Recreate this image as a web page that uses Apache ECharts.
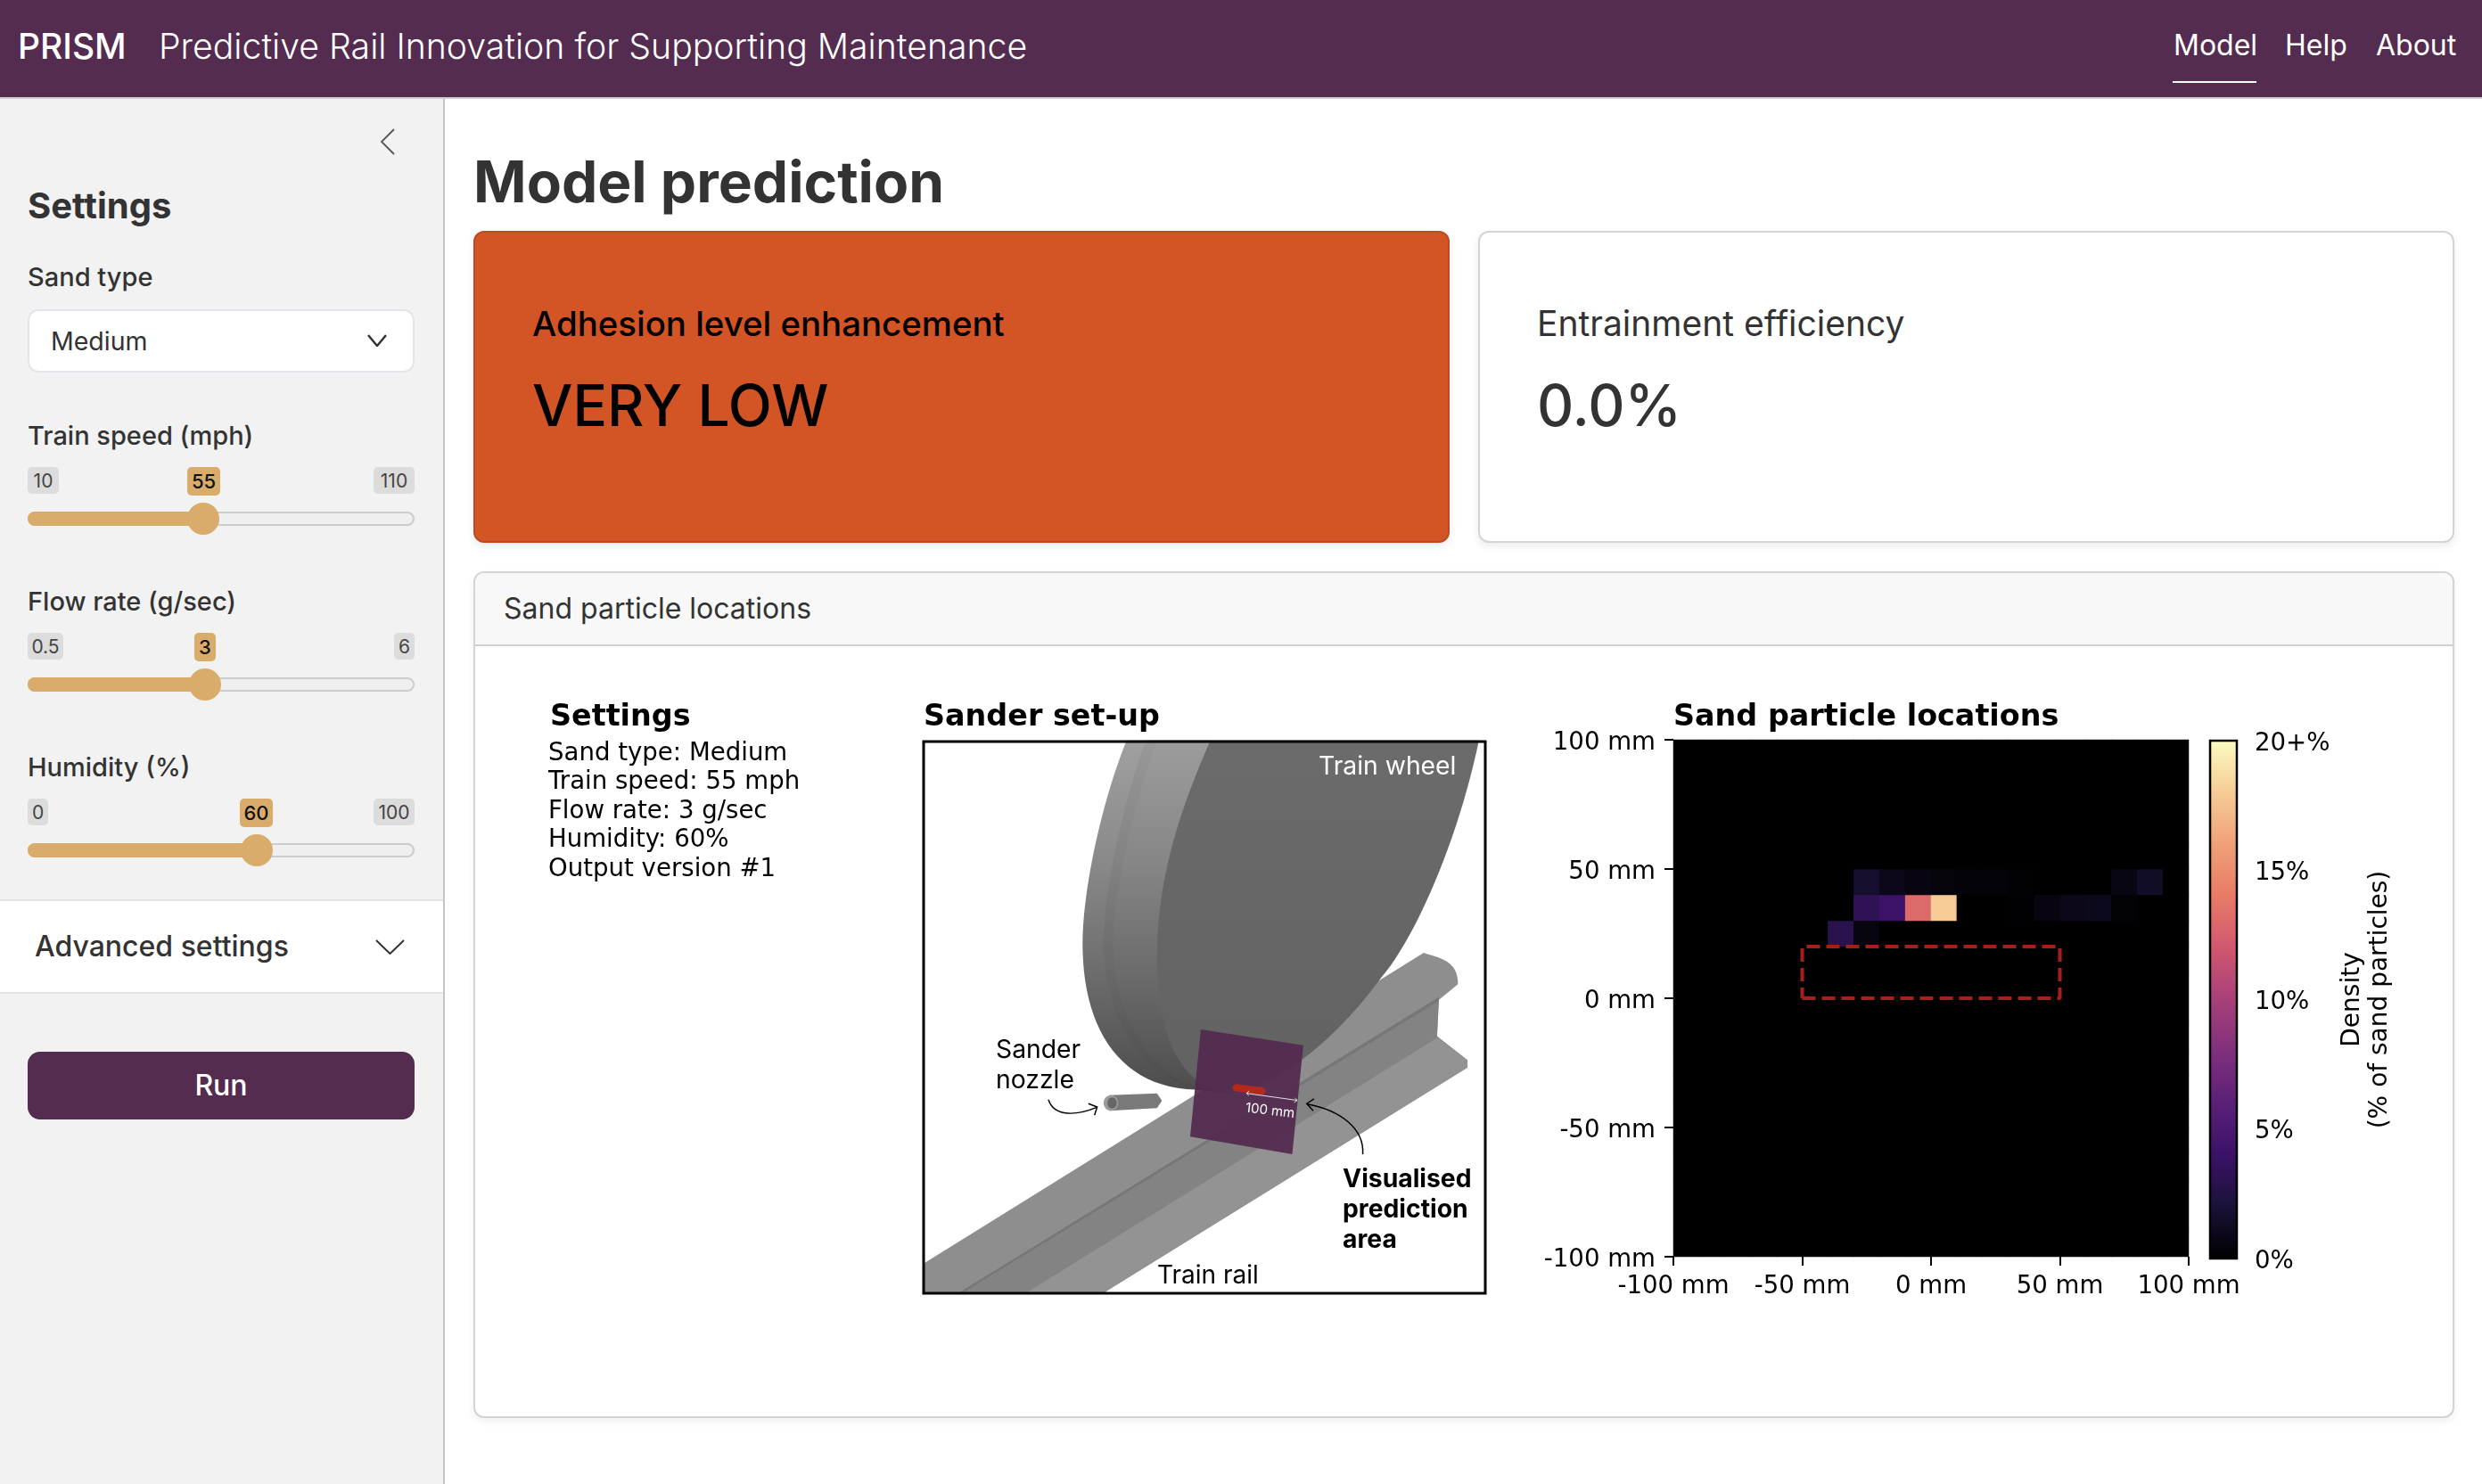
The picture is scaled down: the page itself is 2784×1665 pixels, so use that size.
<!DOCTYPE html>
<html>
<head>
<meta charset="utf-8">
<title>PRISM</title>
<script src="https://cdn.jsdelivr.net/npm/echarts@6/dist/echarts.min.js"></script>
<style>
html,body{margin:0;padding:0;width:2784px;height:1665px;overflow:hidden;background:#fff;font-family:Inter,sans-serif}
.box{position:absolute;box-sizing:border-box}
.t{position:absolute;white-space:nowrap;line-height:1}
#chart{position:absolute;left:0;top:0;width:2784px;height:1665px}
</style>
</head>
<body>
<div id="page"></div>
<div id="chart"></div>
<script>
// heatmap bins, lower edge in mm
var xBins = ['-100','-90','-80','-70','-60','-50','-40','-30','-20','-10','0','10','20','30','40','50','60','70','80','90'];
var yBins = ['-100','-90','-80','-70','-60','-50','-40','-30','-20','-10','0','10','20','30','40','50','60','70','80','90'];
var emptyRow = [0,0,0,0,0,0,0,0,0,0,0,0,0,0,0,0,0,0,0,0];
var row20 = [0,0,0,0,0,0,2.9,0.5,0,0,0,0,0,0,0,0,0,0,0,0];
var row30 = [0,0,0,0,0,0,0,3.2,4,13,18,0,0,0.1,0.6,0.9,1,0.25,0,0];
var row40 = [0,0,0,0,0,0,0,1.6,0.9,0.6,0.4,0.35,0.35,0.12,0,0,0,0.7,1.4,0];
// bottom row first
var densityRows = [emptyRow,emptyRow,emptyRow,emptyRow,emptyRow,emptyRow,emptyRow,emptyRow,emptyRow,emptyRow,
                   emptyRow,emptyRow,row20,row30,row40,emptyRow,emptyRow,emptyRow,emptyRow,emptyRow];
var targetBox = [[-50,0],[50,0],[50,20],[-50,20],[-50,0]];
var magmaStops = ['#000000','#1a1238','#3b1268','#5b2078','#80307c','#a8407a','#d0586f','#e77b65','#f0a077','#f6cb96','#fbfcc0'];
var settingsLines = ['Sand type: Medium','Train speed: 55 mph','Flow rate: 3 g/sec','Humidity: 60%','Output version #1'];
var sliders = [
  {name:'Train speed (mph)', min:'10', val:'55', max:'110', base:499, minW:35, maxW:46, valL:210, valW:37, cx:228},
  {name:'Flow rate (g/sec)', min:'0.5', val:'3', max:'6', base:685, minW:40, maxW:23, valL:218, valW:24, cx:230},
  {name:'Humidity (%)', min:'0', val:'60', max:'100', base:871, minW:23, maxW:46, valL:269, valW:37, cx:288}
];

var page = document.getElementById('page');
function box(x,y,w,h,css){
  var d = document.createElement('div');
  d.className = 'box';
  d.style.cssText = 'left:'+x+'px;top:'+y+'px;width:'+w+'px;height:'+h+'px;'+(css||'');
  page.appendChild(d);
  return d;
}
// x = left edge, base = text baseline
function txt(s,x,base,size,weight,color,css){
  var d = document.createElement('div');
  d.className = 't';
  d.textContent = s;
  d.style.cssText = 'left:'+x+'px;top:'+(base-0.864*size)+'px;font-size:'+size+'px;font-weight:'+weight+';color:'+color+';'+(css||'');
  page.appendChild(d);
}
function chevron(x,y,w,h,color,sw){
  var s = '<svg width="'+w+'" height="'+h+'" style="position:absolute;left:'+x+'px;top:'+y+'px"><polyline points="1,1 '+(w/2)+','+(h-1)+' '+(w-1)+',1" fill="none" stroke="'+color+'" stroke-width="'+sw+'"/></svg>';
  page.insertAdjacentHTML('beforeend',s);
}

// navbar
box(0,0,2784,109,'background:#532c50');
box(0,109,2784,2,'background:#d0d0d0');
txt('PRISM',20,66,39,500,'#fff');
txt('Predictive Rail Innovation for Supporting Maintenance',178,66,39.2,300,'#fff');
txt('Model',2438,63,32,400,'#fff');
txt('Help',2563,63,32,400,'#fff');
txt('About',2665,63,32,400,'#fff');
box(2437,91,94,2,'background:#fff');

// sidebar
box(0,111,497,1554,'background:#f2f2f2');
box(497,111,2,1554,'background:#c6c6c6');
page.insertAdjacentHTML('beforeend','<svg width="16" height="30" style="position:absolute;left:427px;top:144px"><polyline points="15,1 1,15 15,29" fill="none" stroke="#555" stroke-width="1.8"/></svg>');
txt('Settings',31,246,40,700,'#333');
txt('Sand type',31,321,29,500,'#333');
box(31,347,434,71,'background:#fff;border:2px solid #e2e6ea;border-radius:12px');
txt('Medium',57,394,28.5,400,'#333');
chevron(412,375,22,14,'#333',2.5);
sliders.forEach(function(s){
  var by = s.base+25, h = 30, cy = s.base+83;
  txt(s.name,31,s.base,29,500,'#333');
  box(31,by,s.minW,h,'background:#dcdcdc;border-radius:5px');
  box(465-s.maxW,by,s.maxW,h,'background:#dcdcdc;border-radius:5px');
  box(s.valL,by,s.valW,h+2,'background:#d9ac6b;border-radius:5px');
  txt(s.min,31,by+23,21,400,'#444','width:'+s.minW+'px;text-align:center');
  txt(s.max,465-s.maxW,by+23,21,400,'#444','width:'+s.maxW+'px;text-align:center');
  txt(s.val,s.valL,by+24,22,500,'#111','width:'+s.valW+'px;text-align:center');
  box(31,cy-8,434,16,'background:#efefef;border:2px solid #ccc;border-radius:8px');
  box(31,cy-8,s.cx-31,16,'background:#d9ac6b;border-radius:8px 0 0 8px');
  box(s.cx-18,cy-18,36,36,'background:#d9ac6b;border-radius:50%');
});
box(0,1009,497,106,'background:#fff;border-top:2px solid #e0e3e8;border-bottom:2px solid #e0e3e8');
txt('Advanced settings',39,1074,32,500,'#333');
chevron(421,1054,33,17,'#333',2);
box(31,1180,434,76,'background:#532c50;border-radius:14px');
txt('Run',31,1230,32,500,'#fff','width:434px;text-align:center');

// main column
txt('Model prediction',531,227,64,700,'#333');
box(531,259,1095,350,'background:#d35424;border:2px solid #bd4a20;border-radius:12px;box-shadow:0 4px 10px rgba(0,0,0,.08)');
box(1658,259,1095,350,'background:#fff;border:2px solid #d4d4d4;border-radius:12px;box-shadow:0 4px 10px rgba(0,0,0,.08)');
txt('Adhesion level enhancement',597,377,38.4,500,'#000');
txt('VERY LOW',597,478,64,500,'#000');
txt('Entrainment efficiency',1724,377,39,400,'#333');
txt('0.0%',1724,478,64,500,'#333');
box(531,641,2222,950,'background:#fff;border:2px solid #d4d4d4;border-radius:12px;box-shadow:0 4px 10px rgba(0,0,0,.06)');
box(533,643,2218,82,'background:#f8f8f8;border-bottom:2px solid #d0d0d0;border-radius:10px 10px 0 0');
txt('Sand particle locations',565,695,32,400,'#333');

// sampled cubic curve, for the wheel outline
function bez(a,b,c,d){
  var pts = [];
  for(var i=0;i<=24;i++){
    var t = i/24, u = 1-t;
    pts.push([u*u*u*a[0]+3*u*u*t*b[0]+3*u*t*t*c[0]+t*t*t*d[0], u*u*u*a[1]+3*u*u*t*b[1]+3*u*t*t*c[1]+t*t*t*d[1]]);
  }
  return pts;
}
function poly(points,fill,z){
  return {type:'polygon',shape:{points:points},style:{fill:fill},z:z||1,silent:true};
}
function vgrad(stops){
  return new echarts.graphic.LinearGradient(0,0,0,1,stops.map(function(c,i){return {offset:i/(stops.length-1),color:c}}));
}
function curve(a,b,c,d,sw){
  return {type:'bezierCurve',shape:{x1:a[0],y1:a[1],cpx1:b[0],cpy1:b[1],cpx2:c[0],cpy2:c[1],x2:d[0],y2:d[1]},style:{stroke:'#000',lineWidth:sw,fill:null},silent:true};
}
function figText(s,x,base,size,bold,fill,font){
  return {type:'text',x:x,y:base+0.22*size,silent:true,z:20,style:{text:s,fill:fill||'#000',verticalAlign:'bottom',
    font:(bold?'bold ':'')+size+'px '+(font||'"DejaVu Sans"')}};
}

var railTop = [[38,1465],[1350,625]];
var rimOuter = [].concat(bez([570,50],[500,230],[450,480],[455,620]),bez([455,620],[460,840],[560,990],[750,995]),[[850,1005],[790,50]]);
var rimInner = [].concat(bez([620,50],[560,220],[505,480],[510,620]),bez([510,620],[520,800],[600,950],[750,992]),[[850,1005],[790,50]]);
var rimTread = [].concat(bez([650,50],[590,220],[530,480],[535,620]),bez([535,620],[545,800],[630,950],[750,985]),[[850,1005],[790,50]]);
var wheelFace = [].concat(bez([790,50],[710,240],[650,420],[650,640]),bez([650,640],[650,860],[720,1000],[850,1005]),bez([850,1005],[1000,970],[1140,830],[1240,690]),bez([1240,690],[1330,580],[1440,320],[1495,50]));

// zoom-crop coordinates of the sander picture, scaled to the page by the group
var sketch = [
  poly(railTop.concat(bez([1350,625],[1400,640],[1440,650],[1440,710]),[[1390,752],[1385,850],[1465,915],[1465,935],[510,1545],[38,1545]]),'#8e8e8e'),
  poly([[1390,745],[1385,850],[1392,858],[307,1545],[130,1545]],'#838383',2),
  poly([[1390,745],[130,1545],[140,1545],[1390,755]],'#777777',2),
  poly([[1385,855],[1465,917],[1465,935],[510,1545],[307,1545]],'#939393',2),
  poly(rimOuter,vgrad(['#a0a0a0','#8a8a8a','#6c6c6c','#4c4c4c']),3),
  poly(rimInner,vgrad(['#989898','#838383','#686868','#4a4a4a']),3),
  poly(rimTread,vgrad(['#9c9c9c','#878787','#6b6b6b','#4d4d4d']),3),
  poly(wheelFace,vgrad(['#6b6b6b','#626262']),4),
  poly([[525,1010],[650,1005],[663,1025],[650,1045],[525,1052]],'#7a7a7a',5),
  {type:'ellipse',shape:{cx:529,cy:1031,rx:19,ry:21},style:{fill:'#9a9a9a'},z:6,silent:true},
  {type:'ellipse',shape:{cx:532,cy:1031,rx:12,ry:15},style:{fill:'#666'},z:6,silent:true},
  poly([[765,832],[1034,875],[1005,1170],[737,1122]],'rgba(83,42,79,0.93)',7),
  {type:'line',shape:{x1:858,y1:990,x2:925,y2:999},style:{stroke:'#b5281d',lineWidth:20,lineCap:'round'},z:8,silent:true},
  {type:'line',shape:{x1:885,y1:1005,x2:1018,y2:1024},style:{stroke:'#fff',lineWidth:2},z:8,silent:true},
  {type:'polyline',shape:{points:[[892,999],[885,1005],[891,1011]]},style:{stroke:'#fff',lineWidth:2,fill:null},z:8,silent:true},
  {type:'polyline',shape:{points:[[1012,1018],[1018,1024],[1010,1030]]},style:{stroke:'#fff',lineWidth:2,fill:null},z:8,silent:true},
  Object.assign(curve([365,1022],[380,1070],[440,1065],[492,1043],3.5),{z:9}),
  {type:'polyline',shape:{points:[[470,1033],[493,1042],[486,1064]]},style:{stroke:'#000',lineWidth:3.5,fill:null},z:9,silent:true},
  Object.assign(curve([1190,1170],[1195,1100],[1130,1050],[1044,1034],3.5),{z:9}),
  {type:'polyline',shape:{points:[[1062,1020],[1043,1033],[1060,1052]]},style:{stroke:'#000',lineWidth:3.5,fill:null},z:9,silent:true}
];

var graphics = [
  {type:'group',x:1020,y:810,scaleX:1/2.34,scaleY:1/2.412,silent:true,children:sketch},
  {type:'rect',shape:{x:1036,y:832,width:630,height:619},style:{fill:null,stroke:'#000',lineWidth:3},z:15,silent:true},
  {type:'rect',shape:{x:2479,y:831,width:30,height:581},style:{fill:null,stroke:'#000',lineWidth:2.5},z:15,silent:true},
  figText('Settings',617,814,33.4,true),
  figText('Sander set-up',1036,814,33.4,true),
  figText('Sand particle locations',1877,814,33.4,true),
  figText('Train wheel',1479,868,28.3,false,'#fff','Inter'),
  figText('Sander',1117,1186,28.3,false,'#000','Inter'),
  figText('nozzle',1117,1220,28.3,false,'#000','Inter'),
  figText('Visualised',1506,1331,28.3,true,'#000','Inter'),
  figText('prediction',1506,1365,28.3,true,'#000','Inter'),
  figText('area',1506,1399,28.3,true,'#000','Inter'),
  figText('Train rail',1298,1439,28,false,'#000','Inter'),
  {type:'text',x:1397,y:1243,rotation:-0.12,silent:true,z:20,style:{text:'100 mm',fill:'#fff',font:'15px Inter',verticalAlign:'middle'}}
];
settingsLines.forEach(function(s,i){
  graphics.push(figText(s,615,853.5+i*32.5,27.6,false));
});

var heatData = [];
densityRows.forEach(function(row,j){
  row.forEach(function(v,i){ heatData.push([i,j,v]); });
});

var axisFont = {color:'#000',fontFamily:'DejaVu Sans',fontSize:27.6};
var tick = {show:true,length:10,lineStyle:{color:'#000',width:2}};

var chart = echarts.init(document.getElementById('chart'));
chart.setOption({
  animation:false,
  backgroundColor:'transparent',
  graphic:{elements:graphics},
  grid:[
    {left:1877,top:830,width:578,height:580,show:true,backgroundColor:'#000',borderWidth:0},
    {left:2479,top:831,width:30,height:581,show:false}
  ],
  xAxis:[
    {type:'category',gridIndex:0,data:xBins,show:false},
    {type:'value',gridIndex:0,min:-100,max:100,interval:50,position:'bottom',splitLine:{show:false},
      axisLine:{show:false},axisTick:tick,axisLabel:Object.assign({formatter:'{value} mm',margin:20,hideOverlap:false,showMinLabel:true,showMaxLabel:true},axisFont)},
    {type:'value',gridIndex:1,show:false,min:0,max:1}
  ],
  yAxis:[
    {type:'category',gridIndex:0,data:yBins,show:false},
    {type:'value',gridIndex:0,min:-100,max:100,interval:50,position:'left',splitLine:{show:false},
      axisLine:{show:false},axisTick:tick,axisLabel:Object.assign({formatter:'{value} mm',margin:20,verticalAlign:'top',lineHeight:7,showMinLabel:true,showMaxLabel:true},axisFont)},
    {type:'value',gridIndex:1,min:0,max:20,interval:5,position:'right',splitLine:{show:false},
      axisLine:{show:false},axisTick:tick,
      axisLabel:Object.assign({margin:20,verticalAlign:'top',lineHeight:7,showMinLabel:true,showMaxLabel:true,formatter:function(v){return v==20?'20+%':v+'%'}},axisFont),
      name:'Density\n(% of sand particles)',nameLocation:'middle',nameRotate:90,nameGap:114,
      nameTextStyle:{color:'#000',fontFamily:'DejaVu Sans',fontSize:28,lineHeight:31}}
  ],
  visualMap:{type:'continuous',seriesIndex:0,min:0,max:20,left:2479,top:831,itemWidth:30,itemHeight:581,padding:0,
    calculable:false,hoverLink:false,text:null,showLabel:false,inRange:{color:magmaStops}},
  series:[
    {name:'Density',type:'heatmap',xAxisIndex:0,yAxisIndex:0,data:heatData,silent:true},
    {name:'Nozzle target',type:'line',xAxisIndex:1,yAxisIndex:1,data:targetBox,symbol:'none',silent:true,z:5,
      lineStyle:{color:'#a5201a',width:4,type:[15,7]}}
  ]
});
</script>
</body>
</html>
